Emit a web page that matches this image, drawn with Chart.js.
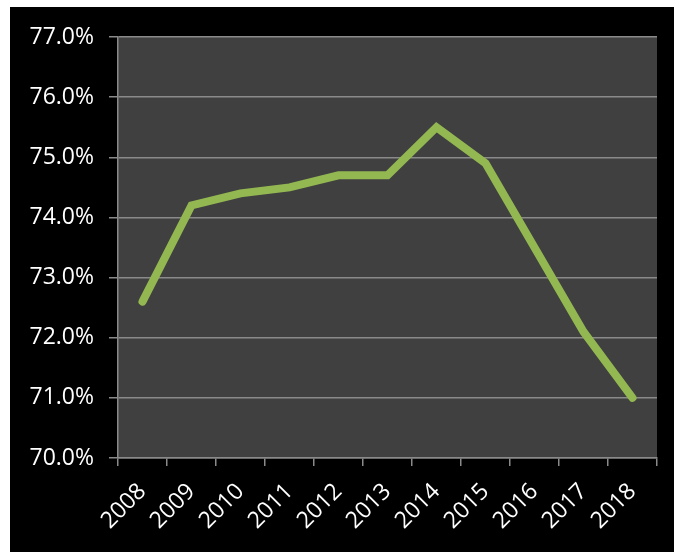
<!DOCTYPE html>
<html>
<head>
<meta charset="utf-8">
<script src="https://cdn.jsdelivr.net/npm/chart.js@4.4.1/dist/chart.umd.min.js"></script>
<style>
  html, body { margin: 0; padding: 0; background: #fff; }
  #wrap { position: absolute; left: 10px; top: 7px; width: 664px; height: 545px; background: #000; }
</style>
</head>
<body>
<div id="wrap"><canvas id="rateChart" width="664" height="545"></canvas></div>
<script>
// Chart data
const years = ['2008', '2009', '2010', '2011', '2012', '2013', '2014', '2015', '2016', '2017', '2018'];
const rates = [72.6, 74.2, 74.4, 74.5, 74.7, 74.7, 75.5, 74.9, 73.5, 72.1, 71.0];
const yMin = 70;
const yMax = 77;

// fill the plot area dark grey
const plotBackground = {
    id: 'plotBackground',
    beforeDraw(chart) {
        const a = chart.chartArea;
        const ctx = chart.ctx;
        ctx.save();
        ctx.fillStyle = '#404040';
        ctx.fillRect(a.left, a.top, a.right - a.left, a.bottom - a.top);
        ctx.restore();
    }
};

const ctx = document.getElementById('rateChart').getContext('2d');
const rateChart = new Chart(ctx, {
    type: 'line',
    data: {
        labels: years,
        datasets: [{
            data: rates,
            borderColor: '#93b851',
            borderWidth: 8,
            borderCapStyle: 'round',
            borderJoinStyle: 'miter',
            pointRadius: 0,
            tension: 0
        }]
    },
    options: {
        responsive: false,
        animation: false,
        layout: { padding: { top: 30, right: 17, left: 0, bottom: 0 } },
        plugins: {
            legend: { display: false },
            tooltip: { enabled: false }
        },
        scales: {
            x: {
                offset: true,
                grid: {
                    offset: true,
                    drawOnChartArea: false,
                    drawTicks: true,
                    tickLength: 8,
                    color: '#8a8a8a',
                    lineWidth: 1.5
                },
                border: { color: '#8a8a8a', width: 1.5 },
                ticks: {
                    color: '#fff',
                    font: { family: 'Open Sans', size: 23 },
                    minRotation: 45,
                    maxRotation: 45,
                    padding: 12
                },
                afterFit(scale) { scale.height = 94; }
            },
            y: {
                min: yMin,
                max: yMax,
                grid: {
                    color: '#8a8a8a',
                    lineWidth: 1.5,
                    tickLength: 9
                },
                border: { color: '#8a8a8a', width: 1.5 },
                ticks: {
                    stepSize: 1,
                    color: '#fff',
                    font: { family: 'Open Sans', size: 23 },
                    padding: 15,
                    callback: v => v.toFixed(1) + '%'
                },
                afterFit(scale) { scale.width = 108; }
            }
        }
    },
    plugins: [plotBackground]
});
</script>
</body>
</html>
